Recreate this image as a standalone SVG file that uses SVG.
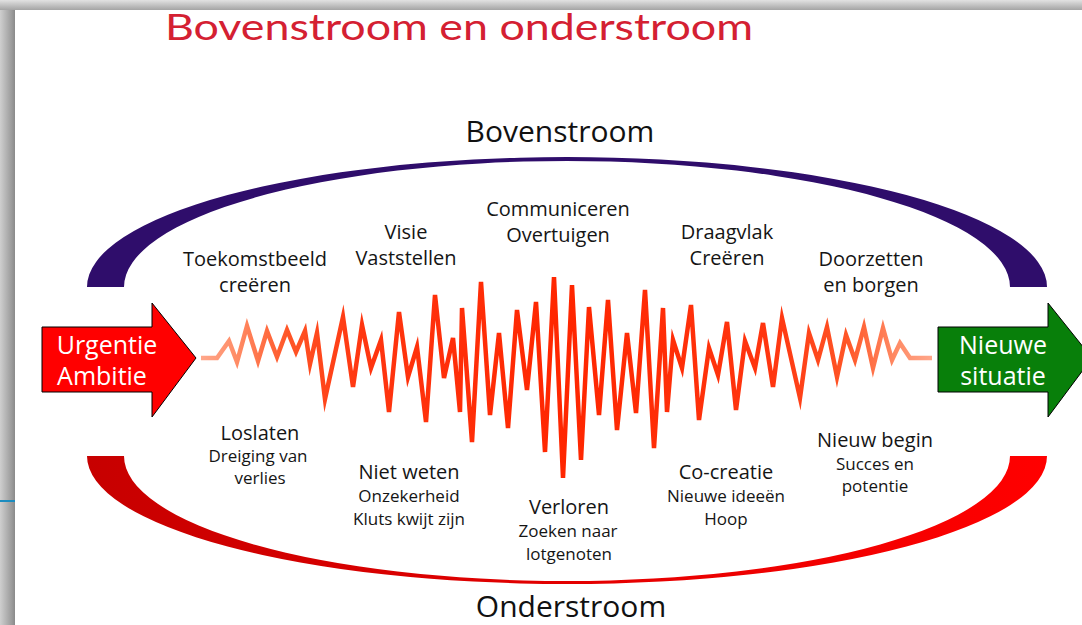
<svg xmlns="http://www.w3.org/2000/svg" width="1082" height="625" viewBox="0 0 1082 625">
<style>
.lbl{font-family:"Open Sans","DejaVu Sans",sans-serif;font-size:20px;fill:#151515;text-anchor:middle}
.sub{font-family:"Open Sans","DejaVu Sans",sans-serif;font-size:17px;fill:#151515;text-anchor:middle}
.head{font-family:"Open Sans","DejaVu Sans",sans-serif;font-size:30px;fill:#111;text-anchor:middle}
.arr{font-family:"Open Sans","DejaVu Sans",sans-serif;font-size:25px;fill:#ffffff;text-anchor:middle}
</style>
<defs>
<linearGradient id="gLeft" x1="0" y1="0" x2="1" y2="0">
<stop offset="0" stop-color="#cfcfcf"/><stop offset="0.8" stop-color="#9a9a9a"/><stop offset="1" stop-color="#8a8a8a"/>
</linearGradient>
<linearGradient id="gTop" x1="0" y1="0" x2="0" y2="1">
<stop offset="0" stop-color="#e2e2e2"/><stop offset="1" stop-color="#a4a4a4"/>
</linearGradient>
<linearGradient id="gLow" gradientUnits="userSpaceOnUse" x1="87" y1="0" x2="1047" y2="0">
<stop offset="0" stop-color="#c70000"/><stop offset="1" stop-color="#ff0000"/>
</linearGradient>
<linearGradient id="gZig" gradientUnits="userSpaceOnUse" x1="200" y1="0" x2="934" y2="0">
<stop offset="0" stop-color="#ffa88c"/>
<stop offset="0.05" stop-color="#ff8c66"/>
<stop offset="0.12" stop-color="#ff5526"/>
<stop offset="0.22" stop-color="#ff3610"/>
<stop offset="0.5" stop-color="#ff2600"/>
<stop offset="0.78" stop-color="#ff3610"/>
<stop offset="0.88" stop-color="#ff5526"/>
<stop offset="0.95" stop-color="#ff8c66"/>
<stop offset="1" stop-color="#ffa88c"/>
</linearGradient>
</defs>
<rect x="0" y="0" width="1082" height="625" fill="#ffffff"/>
<rect x="0" y="0" width="15" height="625" fill="url(#gLeft)"/>
<rect x="0" y="0" width="1082" height="10" fill="url(#gTop)"/>
<rect x="0" y="500" width="15" height="2" fill="#1c8cbf"/>

<g id="title">
<text x="165" y="40" font-family="Lato,'Open Sans',sans-serif" font-size="36" fill="#d42032" textLength="588" lengthAdjust="spacingAndGlyphs">Bovenstroom en onderstroom</text>
</g>

<g id="bovenstroom-arc">
<path d="M87,287 A480,130 0 0 1 1047,287 L1010,287 A443,126 0 0 0 124,287 Z" fill="#2f0d6b"/>
</g>
<g id="onderstroom-arc">
<path d="M87,456 A480,128 0 0 0 1047,456 L1010,456 A443,125 0 0 1 124,456 Z" fill="url(#gLow)"/>
</g>

<g id="connectors">
<polyline fill="none" stroke="url(#gZig)" stroke-width="4.5" stroke-linejoin="miter" stroke-miterlimit="6" points="201,358 217,358 229,341 237,362 247,326 258,361 267,331 277,357 287,330 296,352 305,331 310,364 317,333 325,399 343,317 353,387 362,325 371,368 381,340 389,412 399,312 408,377 417,347 426,422 435,295 444,378 453,338 460,412 462,308 472,442 481,282 490,415 499,333 508,428 517,310 527,390 536,302 545,452 554,277 563,478 572,285 581,460 589,307 599,415 608,300 617,430 627,333 636,413 645,290 654,448 663,308 667,412 673,340 682,368 691,305 699,420 709,348 718,375 727,322 736,410 745,341 755,368 763,323 773,387 782,318 800,398 809,333 818,360 827,327 837,377 846,335 855,360 864,327 873,368 883,328 892,360 900,343 910,358 932,358"/>
</g>

<g id="arrow-urgentie">
<path d="M42,327 L152,327 L152,303 L196,358 L152,417 L152,392 L42,392 Z" fill="#ff0000" stroke="#000" stroke-width="1"/>
<text class="arr" x="107" y="354">Urgentie</text>
<text class="arr" x="102" y="385">Ambitie</text>
</g>
<g id="arrow-nieuwe">
<path d="M938,327 L1048,327 L1048,303 L1092,358 L1048,417 L1048,392 L938,392 Z" fill="#087f0a" stroke="#000" stroke-width="1"/>
<text class="arr" x="1003" y="354">Nieuwe</text>
<text class="arr" x="1003" y="385">situatie</text>
</g>

<g id="label-bovenstroom"><text class="head" x="560" y="142">Bovenstroom</text></g>
<g id="label-onderstroom"><text class="head" x="571" y="617">Onderstroom</text></g>

<g id="toekomstbeeld"><text class="lbl" x="255" y="266">Toekomstbeeld</text><text class="lbl" x="255" y="292">creëren</text></g>
<g id="visie"><text class="lbl" x="406" y="239">Visie</text><text class="lbl" x="406" y="265">Vaststellen</text></g>
<g id="communiceren"><text class="lbl" x="558" y="216">Communiceren</text><text class="lbl" x="558" y="242">Overtuigen</text></g>
<g id="draagvlak"><text class="lbl" x="727" y="239">Draagvlak</text><text class="lbl" x="727" y="265">Creëren</text></g>
<g id="doorzetten"><text class="lbl" x="871" y="266">Doorzetten</text><text class="lbl" x="871" y="292">en borgen</text></g>

<g id="loslaten"><text class="lbl" x="260" y="440">Loslaten</text><text class="sub" x="258" y="462">Dreiging van</text><text class="sub" x="260" y="484">verlies</text></g>
<g id="niet-weten"><text class="lbl" x="409" y="479">Niet weten</text><text class="sub" x="409" y="502">Onzekerheid</text><text class="sub" x="409" y="525">Kluts kwijt zijn</text></g>
<g id="verloren"><text class="lbl" x="569" y="514">Verloren</text><text class="sub" x="568" y="537">Zoeken naar</text><text class="sub" x="569" y="560">lotgenoten</text></g>
<g id="co-creatie"><text class="lbl" x="726" y="479">Co-creatie</text><text class="sub" x="726" y="502">Nieuwe ideeën</text><text class="sub" x="726" y="525">Hoop</text></g>
<g id="nieuw-begin"><text class="lbl" x="875" y="447">Nieuw begin</text><text class="sub" x="875" y="470">Succes en</text><text class="sub" x="875" y="492">potentie</text></g>
</svg>
